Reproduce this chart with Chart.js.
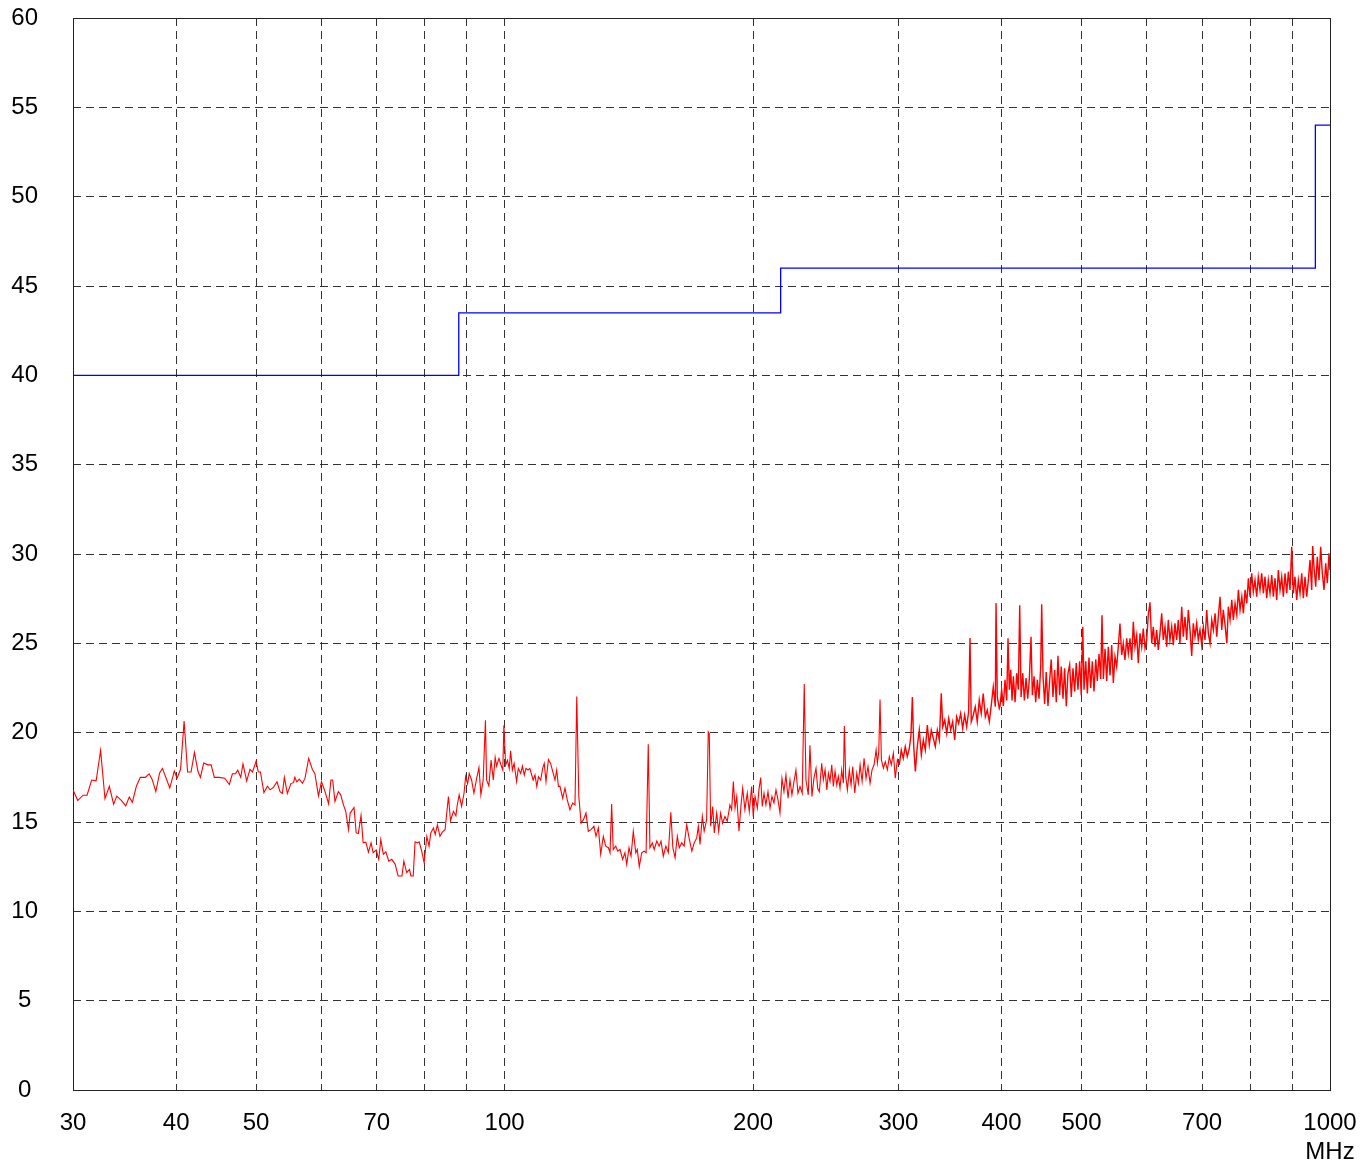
<!DOCTYPE html>
<html>
<head>
<meta charset="utf-8">
<title>Radiated emission scan</title>
<script src="https://cdn.jsdelivr.net/npm/chart.js@4.4.1/dist/chart.umd.min.js"></script>
<style>
  html, body { margin: 0; padding: 0; background: #fff; }
  #wrap { width: 1362px; height: 1162px; }
</style>
</head>
<body>
<div id="wrap"><canvas id="scanChart" width="1362" height="1162"></canvas></div>
<script>
const xGridFreq = [30, 40, 50, 60, 70, 80, 90, 100, 200, 300, 400, 500, 600, 700, 800, 900, 1000]
const xTickLabels = [30, 40, 50, 70, 100, 200, 300, 400, 500, 700, 1000]
const xUnit = 'MHz'
const yTicks = [0, 5, 10, 15, 20, 25, 30, 35, 40, 45, 50, 55, 60]

// limit line (MHz, dB)
const limitFreq = [30, 88, 88, 216, 216, 960, 960, 1000]
const limitLevel = [40, 40, 43.5, 43.5, 46, 46, 54, 54]

// measured scan, [MHz, dB]
const emissionScan = [
  [30.0,16.8],[30.4,16.2],[30.85,16.5],[31.2,16.5],[31.6,17.35],[32.0,17.3],[32.4,19.0],[32.8,16.3],[33.2,17.0],[33.6,16.0],
  [33.9,16.45],[34.35,16.2],[34.75,15.9],[35.1,16.4],[35.4,16.1],[35.8,17.0],[36.2,17.5],[36.7,17.5],[37.1,17.7],[37.4,17.4],
  [37.8,16.7],[38.2,17.75],[38.5,18.0],[38.9,17.45],[39.3,16.9],[39.8,17.85],[40.1,17.45],[40.5,17.95],[40.9,20.65],[41.3,17.8],
  [41.7,17.8],[42.1,18.9],[42.5,17.85],[42.8,17.5],[43.2,18.3],[43.7,18.2],[44.1,18.2],[44.5,17.5],[45.1,17.5],[45.8,17.45],
  [46.4,17.1],[46.8,17.7],[47.2,17.7],[47.5,17.9],[47.9,17.5],[48.2,18.25],[48.7,17.3],[49.15,17.95],[49.5,17.8],[50.0,18.4],
  [50.3,17.8],[50.6,17.8],[51.1,16.65],[51.6,17.0],[52.0,16.8],[52.5,16.95],[53.0,17.25],[53.45,16.7],[53.8,16.6],[54.1,17.5],
  [54.55,16.6],[55.1,17.15],[55.5,17.2],[55.7,17.5],[56.0,17.25],[56.4,17.4],
  [56.9,17.17],[57.3,17.44],[57.9,18.56],[58.5,17.94],[58.9,17.72],[59.5,16.46],[60.0,17.26],[60.6,16.7],[61.2,16.02],[61.6,17.35],
  [61.9,17.35],[62.3,16.15],[62.9,16.7],[63.3,16.52],[63.8,15.96],[64.2,15.6],[64.7,14.57],[65.0,15.5],[65.7,15.81],[66.1,14.39],
  [66.5,14.35],[67.0,15.37],[67.4,13.83],[67.9,13.87],[68.4,13.31],[68.9,13.83],[69.3,13.28],[69.9,13.43],[70.4,12.91],[70.8,14.02],
  [71.3,13.19],[71.8,13.33],[72.4,12.81],[73.0,12.91],[73.7,12.63],[74.3,11.98],[75.1,11.98],[75.5,12.81],[76.1,12.17],[76.7,12.35],
  [77.0,11.98],[77.5,11.98],[77.9,13.89],[78.4,13.83],[78.8,13.89],[79.35,13.37],[79.9,12.72],[80.5,14.2],[81.0,13.65],[81.4,14.39],
  [82.0,14.67],[82.4,14.3],[82.9,14.85],[83.5,14.2],[84.05,14.43],[84.7,14.57],[85.5,16.43],[86.0,15.07],[86.7,15.6],[87.3,15.35],
  [87.6,15.91],[88.1,16.52],[88.7,15.87],[89.3,16.61],[89.7,17.54],[90.2,17.13],[90.6,17.72],[91.2,17.35],[91.8,16.61],[92.5,17.44],
  [93.1,18.04],[93.6,16.52],[94.2,17.35],[94.8,20.69],[95.1,17.35],[95.7,17.02],[96.3,18.46],[96.9,17.35],[97.4,18.61],[97.8,18.13],
  [98.45,18.56],[99.0,18.19],[99.5,17.91],[99.8,20.41],[100.3,18.19],[100.8,18.46],[101.3,18.0],[101.7,18.98],[102.2,17.91],[102.7,18.28],
  [103.4,17.26],[103.9,18.0],[104.6,17.72],[105.1,18.13],[105.65,17.63],[106.15,18.0],[106.75,17.91],[107.3,18.0],[107.85,17.63],[108.3,17.35],
  [108.85,17.63],[109.4,16.98],[109.9,17.54],[110.6,17.35],[111.2,18.0],[111.7,18.28],[112.25,17.26],[113.0,18.5],[113.7,18.28],[114.4,17.81],
  [115.1,17.35],[115.65,17.91],[116.2,16.98],
  [116.7,17.0],[117.6,16.33],[118.35,16.89],[119.1,16.24],[120.0,15.69],[120.9,16.06],[121.7,15.96],[122.3,22.02],[123.0,16.43],[123.8,14.94],
  [124.6,15.13],[125.5,15.5],[126.3,14.48],[127.25,14.57],[128.3,14.76],[129.05,14.2],[129.9,14.67],[130.75,13.19],[131.7,14.2],[132.6,13.65],
  [133.6,13.56],[134.2,13.28],[134.8,16.0],[135.4,13.46],[136.35,13.65],[137.1,13.37],[138.0,13.46],[139.0,12.91],[139.9,13.28],[140.6,12.63],
  [141.5,13.56],[142.3,13.09],[143.2,14.48],[144.2,13.28],[144.8,13.46],[145.6,12.5],[146.6,13.28],[147.6,13.37],[148.4,13.28],[149.3,19.35],
  [150.0,13.56],[151.0,13.83],[151.8,13.46],[152.9,13.93],[153.9,13.65],[154.7,13.93],[155.7,13.09],[156.8,13.65],[157.9,13.28],[159.0,15.54],
  [159.9,13.56],[160.9,13.0],[161.9,14.2],[162.8,13.56],[163.9,13.83],[165.0,13.65],[166.2,14.85],[167.3,14.11],[168.6,13.37],[169.7,13.83],
  [170.9,14.11],[171.7,14.76],[172.5,13.74],[173.6,15.31],[174.5,14.48],[175.7,15.13],[176.5,20.04],[177.0,19.94],[177.7,14.76],[178.7,15.87],
  [179.5,14.39],[180.7,15.5],[181.7,14.48],[182.7,15.5],[183.7,14.94],[184.9,15.31],[186.1,15.04],[187.5,15.96],[188.4,15.69],[189.3,17.26],
  [190.2,15.78],[191.1,16.43],[192.3,14.48],[193.4,15.96],[194.3,16.89],[195.5,15.69],[196.8,16.61],[197.9,15.59],[199.2,16.98],[200.1,15.31],
  [201.1,16.43],[202.4,15.78],[203.3,16.8],[204.3,17.48],[205.2,15.87],[206.2,16.61],[207.3,15.96],[208.5,16.7],[209.7,15.78],[210.8,16.43],
  [212.0,16.06],[213.2,16.8],[214.4,16.24],[215.6,15.5],[216.8,17.44],[218.0,16.7],[219.2,17.63],[220.5,16.33],[221.7,17.35],[222.9,16.52],
  [224.2,17.26],[225.4,17.91],[226.7,16.61],[228.0,16.98],[229.4,16.61],[230.7,22.72],[231.8,17.35],[233.3,16.52],[234.4,19.3],[235.7,16.43],
  [237.0,17.44],[238.4,18.0],[239.5,16.89],[240.6,16.7],
  [241.1,17.17],[242.2,18.29],[243.3,17.36],[244.5,17.92],[245.7,16.8],[246.75,17.73],[247.9,17.27],[249.1,18.2],[250.2,16.99],[251.4,17.83],
  [252.6,17.08],[253.7,17.55],[254.9,16.9],[256.1,17.92],[257.3,17.17],[258.0,20.37],[259.0,17.55],[260.2,16.8],[261.6,17.92],[262.9,17.08],
  [264.1,18.1],[265.6,16.62],[267.1,17.73],[268.3,17.17],[269.6,18.2],[271.1,17.27],[272.6,18.57],[274.1,17.45],[275.6,18.1],[277.2,17.17],
  [278.7,17.92],[280.3,18.2],[281.9,19.03],[282.9,18.29],[284.0,18.94],[285.0,21.86],[286.1,18.48],[287.7,18.01],[289.2,18.38],[290.9,17.92],
  [292.5,18.66],[294.1,18.2],[295.8,18.85],[297.4,17.45],[299.1,18.48],[300.75,18.2],[302.4,19.03],[304.1,18.57],[305.8,19.22],[307.5,18.66],
  [309.3,19.13],[310.7,19.87],[311.9,22.0],[313.1,19.22],[314.5,17.83],[316.2,19.22],[318.0,20.15],[319.8,18.75],[321.6,19.59],[323.4,19.03],
  [325.2,20.43],[327.0,19.31],[328.8,20.15],[330.7,19.68],[332.5,19.22],[334.4,20.15],[336.3,19.59],[338.1,22.2],[339.5,20.33],[341.4,20.71],
  [343.3,19.96],[345.2,20.8],[347.1,20.15],[349.0,20.61],[351.0,19.59],[352.9,20.89],[354.9,20.52],[356.9,21.08],[358.9,20.24],[360.9,20.99],
  [362.9,20.33],[364.9,21.17],[366.3,25.3],[367.6,20.61],[369.7,20.99],[371.7,21.45],[373.8,20.61],[375.9,21.82],[378.0,21.08],[380.1,22.19],
  [382.3,20.89],[384.4,21.26],[386.6,20.61],[388.7,21.54],[390.9,22.56],[393.1,21.45],[393.9,27.25],[395.3,22.0],[397.5,21.36],
  [398.3,21.48],[400.1,22.41],[402.0,21.5],[403.9,22.96],[405.8,21.8],[407.3,25.28],[408.8,22.41],[410.4,23.52],[411.9,21.8],[413.4,23.15],
  [415.4,21.7],[417.3,23.33],[419.2,22.41],[420.8,27.13],[422.4,22.0],[424.4,23.33],[426.3,21.8],[428.3,23.06],[430.3,21.9],[432.2,22.96],
  [434.3,25.37],[435.9,22.1],[438.0,23.15],[440.0,21.7],[442.0,22.96],[444.1,21.9],[446.2,23.7],[447.4,27.19],[449.1,23.15],[451.1,21.6],
  [453.1,23.4],[455.3,21.5],[457.5,22.96],[459.5,24.1],[461.7,22.0],[463.9,23.5],[466.0,21.7],[468.2,24.3],[470.4,22.1],[472.5,23.7],
  [474.8,21.9],[477.0,23.6],[479.2,21.48],[481.4,23.3],[483.7,23.8],[485.9,22.0],[488.2,23.6],[490.5,22.3],[492.7,23.9],[495.0,22.4],
  [497.4,24.0],[499.6,22.1],[501.7,25.93],[503.5,22.4],[505.9,24.0],[508.2,22.2],[510.5,24.2],[513.0,22.5],[515.3,24.0],[517.7,22.3],
  [520.2,24.1],[522.5,22.9],[525.0,24.4],[527.5,23.0],[529.4,26.57],[531.4,23.0],[533.9,24.7],[536.4,22.9],[538.8,24.8],[541.4,23.2],
  [543.9,24.9],[546.4,22.78],[548.9,24.26],[551.5,23.7],[554.0,24.81],[556.6,26.11],[559.3,24.35],[561.8,25.0],[564.4,24.07],[567.1,25.28],
  [569.7,24.44],[572.4,25.28],[575.1,24.07],[577.7,26.2],[580.4,24.81],[583.2,25.46],[585.8,23.89],[588.6,25.56],[591.4,24.81],[594.0,25.83],
  [596.9,24.72],[599.7,25.19],[602.3,26.57],[605.2,27.3],[608.1,25.0],[610.8,25.93],[613.7,24.81],[616.6,25.74],[619.4,24.63],
  [622.3,25.56],[625.3,26.68],[628.1,25.19],[631.1,25.93],[634.1,24.81],[636.9,26.31],[639.9,25.19],[643.0,25.93],[645.9,24.9],[648.9,26.12],
  [652.0,25.19],[654.9,26.31],[658.0,25.0],[661.2,27.05],[664.1,25.37],[667.3,26.49],[670.5,25.19],[673.5,26.87],[676.7,25.75],[679.9,24.29],
  [682.9,26.12],[686.1,25.37],[689.4,26.12],[692.5,25.19],[695.8,25.75],[699.2,24.9],[702.3,25.93],[705.7,25.19],[709.0,26.87],[712.2,25.56],
  [715.6,25.0],[719.0,26.31],[722.2,25.75],[725.7,26.68],[729.1,25.37],[732.3,26.49],[735.8,27.61],[739.3,25.75],[742.6,26.87],[746.2,26.03],
  [749.9,25.0],[753.1,27.05],[756.7,26.31],[760.3,27.43],[763.7,26.31],[767.3,27.24],[771.0,26.59],[774.5,27.99],[778.1,26.87],[781.9,27.61],
  [785.3,26.68],[789.1,27.99],[792.8,27.24],[796.4,28.64],[800.0,27.61],[803.8,28.92],[807.4,27.89],[811.2,28.54],[815.1,27.61],[818.7,28.73],
  [822.6,27.99],[826.5,28.92],[830.3,27.8],[834.2,28.73],[838.2,27.52],[841.9,28.54],[845.9,27.8],[850.0,28.82],[853.8,27.61],[857.8,28.64],
  [861.9,27.43],[865.8,29.1],[869.9,27.99],[874.0,28.73],[878.0,27.61],[882.1,28.92],[886.3,27.8],[890.3,29.01],[894.5,27.99],[898.7,30.41],
  [902.8,27.8],[907.0,28.73],[911.3,27.43],[915.5,28.54],[919.8,27.8],[924.1,28.92],[928.3,27.52],[932.7,28.73],[937.2,27.61],[941.3,28.54],
  [945.8,29.66],[950.2,27.99],[952.9,30.45],[956.3,29.29],[960.9,28.17],[965.2,29.85],[969.8,28.54],[974.4,30.41],[978.8,28.92],[983.4,27.99],
  [988.1,29.48],[992.5,28.36],[997.2,30.04],[1000,29.1]
]

Chart.defaults.font.family = '"Liberation Sans", Arial, sans-serif'
Chart.defaults.font.size = 24
Chart.defaults.color = '#000'

// solid frame round the plot area
const plotFrame = {
  id: 'plotFrame',
  beforeDatasetsDraw(chart) {
    const { ctx, chartArea: a } = chart
    ctx.save()
    ctx.strokeStyle = '#222'
    ctx.lineWidth = 1
    ctx.strokeRect(a.left + 0.5, a.top + 0.5, a.right - a.left, a.bottom - a.top)
    ctx.restore()
  },
}

function noPadding(scale) {
  scale.paddingLeft = 0
  scale.paddingRight = 0
  scale.paddingTop = 0
  scale.paddingBottom = 0
}

const ctx = document.getElementById('scanChart').getContext('2d')
new Chart(ctx, {
  type: 'line',
  data: {
    datasets: [
      {
        label: 'Measured',
        data: emissionScan.map(([f, v]) => ({ x: f, y: v })),
        borderColor: '#ff0000',
        borderWidth: 1,
        pointRadius: 0,
        tension: 0,
        fill: false,
        // the dense part of the sweep reads heavier in the original
        segment: { borderWidth: (c) => (c.p0.parsed.x > 300 ? 1.4 : 1.1) },
      },
      {
        label: 'Limit',
        data: limitFreq.map((f, i) => ({ x: f, y: limitLevel[i] })),
        borderColor: '#0000ff',
        borderWidth: 1.3,
        pointRadius: 0,
        tension: 0,
        fill: false,
      },
    ],
  },
  options: {
    responsive: false,
    animation: false,
    events: [],
    layout: { padding: { left: 0, right: 32, top: 18, bottom: 0 } },
    plugins: { legend: { display: false }, tooltip: { enabled: false } },
    scales: {
      x: {
        type: 'logarithmic',
        min: 30,
        max: 1000,
        afterBuildTicks: (scale) => {
          scale.ticks = xGridFreq.map((v) => ({ value: v }))
        },
        afterFit: (scale) => {
          scale.height = 72
          noPadding(scale)
        },
        ticks: {
          autoSkip: false,
          maxRotation: 0,
          minRotation: 0,
          padding: 19,
          callback: (value) => {
            if (!xTickLabels.includes(value)) return ''
            return value === 1000 ? [String(value), xUnit] : String(value)
          },
        },
        grid: { color: '#333', lineWidth: 1, drawTicks: false },
        border: { display: false, dash: [8, 5] },
      },
      y: {
        type: 'linear',
        min: 0,
        max: 60,
        afterBuildTicks: (scale) => {
          scale.ticks = yTicks.map((v) => ({ value: v }))
        },
        afterFit: (scale) => {
          scale.width = 73
          noPadding(scale)
        },
        ticks: { padding: 35, crossAlign: 'center' },
        grid: { color: '#333', lineWidth: 1, drawTicks: false },
        border: { display: false, dash: [8, 5] },
      },
    },
  },
  plugins: [plotFrame],
})
</script>
</body>
</html>
